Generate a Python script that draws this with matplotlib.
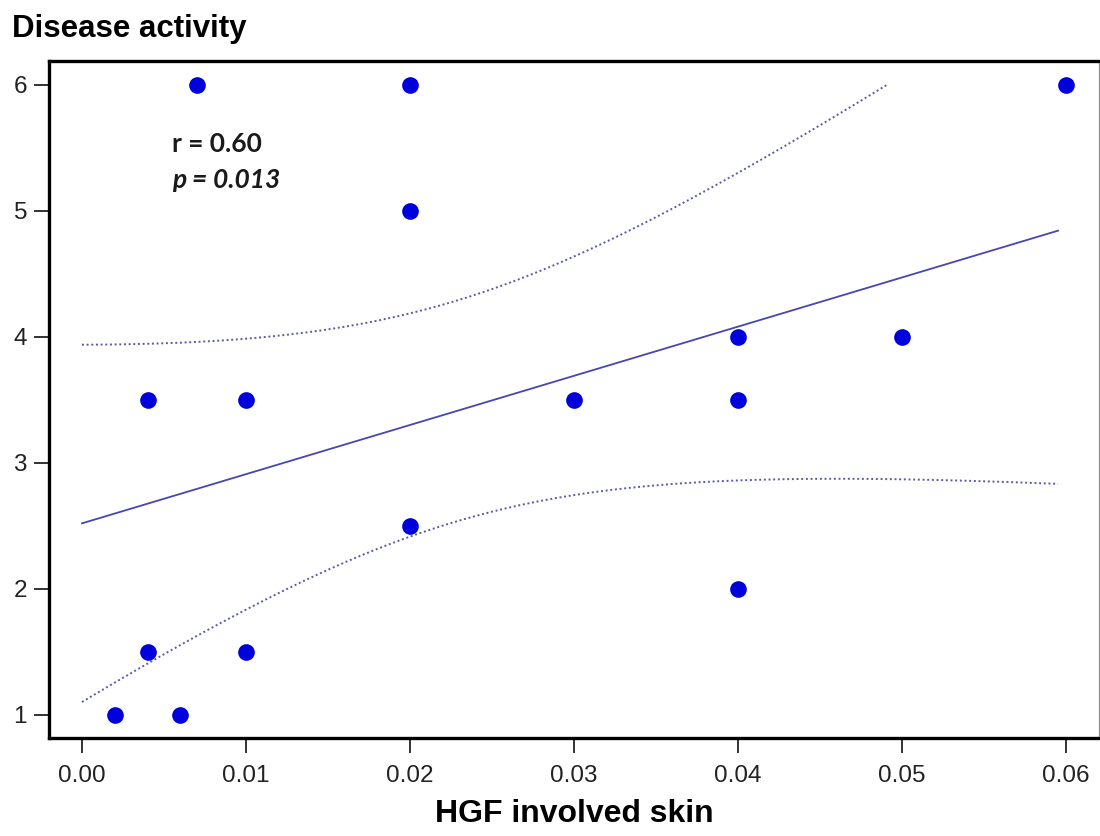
import numpy as np
import matplotlib
matplotlib.use("Agg")
import matplotlib.pyplot as plt

# HGF expression in involved skin vs. disease activity score
hgf = [0.002, 0.006, 0.004, 0.010, 0.020, 0.040, 0.004, 0.010,
       0.030, 0.040, 0.040, 0.050, 0.020, 0.020, 0.007, 0.060]
activity = [1.0, 1.0, 1.5, 1.5, 2.5, 2.0, 3.5, 3.5,
            3.5, 3.5, 4.0, 4.0, 5.0, 6.0, 6.0, 6.0]

x_ticks = [0.00, 0.01, 0.02, 0.03, 0.04, 0.05, 0.06]
x_tick_labels = ["0.00", "0.01", "0.02", "0.03", "0.04", "0.05", "0.06"]
y_ticks = [1, 2, 3, 4, 5, 6]
r_text = "r = 0.60"
p_text = "p = 0.013"
t_crit = 2.1448  # two-sided 95 %, df = 14

x = np.asarray(hgf)
y = np.asarray(activity)
n = len(x)

# least-squares fit and 95 % confidence band of the mean
slope, intercept = np.polyfit(x, y, 1)
resid = y - (slope * x + intercept)
s = np.sqrt(np.sum(resid ** 2) / (n - 2))
sxx = np.sum((x - x.mean()) ** 2)
xg = np.linspace(0.0, 0.0595, 400)
fit = slope * xg + intercept
half = t_crit * s * np.sqrt(1.0 / n + (xg - x.mean()) ** 2 / sxx)
upper = fit + half
lower = fit - half
upper = np.where(upper <= y.max(), upper, np.nan)

plt.rcParams["font.family"] = ["Liberation Sans", "DejaVu Sans"]

fig = plt.figure(figsize=(11, 8.36), dpi=100)
ax = fig.add_axes([49 / 1100, 1 - 738 / 836, 1050 / 1100, 677 / 836])

line_col = "#4646b4"
band_col = "#5a5aa8"
ax.plot(xg, fit, color=line_col, lw=1.3, zorder=2)
ax.plot(xg, upper, color=band_col, lw=1.4, ls=(0, (1, 1.4)), zorder=2)
ax.plot(xg, lower, color=band_col, lw=1.4, ls=(0, (1, 1.4)), zorder=2)
ax.plot(x, y, "o", color="#0000dd", markersize=12, markeredgewidth=0, zorder=3)

ax.set_xlim(-0.00201, 0.0620)
ax.set_ylim(0.817, 6.19)
ax.set_xticks(x_ticks)
ax.set_xticklabels(x_tick_labels)
ax.set_yticks(y_ticks)

for side in ("left", "top", "bottom"):
    ax.spines[side].set_linewidth(2.4)
    ax.spines[side].set_color("black")
ax.spines["right"].set_linewidth(0.8)
ax.spines["right"].set_color("#888888")

ax.tick_params(axis="both", direction="out", length=10.8, width=1.3,
               color="#222222", labelsize=17.5, labelcolor="#222222")
ax.tick_params(axis="x", pad=9)
ax.tick_params(axis="y", pad=5)

ax.set_xlabel("HGF involved skin", fontsize=23, fontweight="bold",
              labelpad=8)
fig.text(12 / 1100, 1 - 37 / 836, "Disease activity", fontsize=22.5,
         fontweight="bold", ha="left", va="baseline")

ax.text(0.00549, 5.53, r_text, fontsize=19, fontweight="bold",
        family=["Lato", "DejaVu Sans"], ha="left", va="center",
        color="#1a1a1a")
ax.text(0.00549, 5.245, p_text, fontsize=19,
        fontweight="bold", style="italic", family=["Lato", "DejaVu Sans"],
        ha="left", va="center", color="#1a1a1a")

fig.savefig("out.png", dpi=100, facecolor="white")
